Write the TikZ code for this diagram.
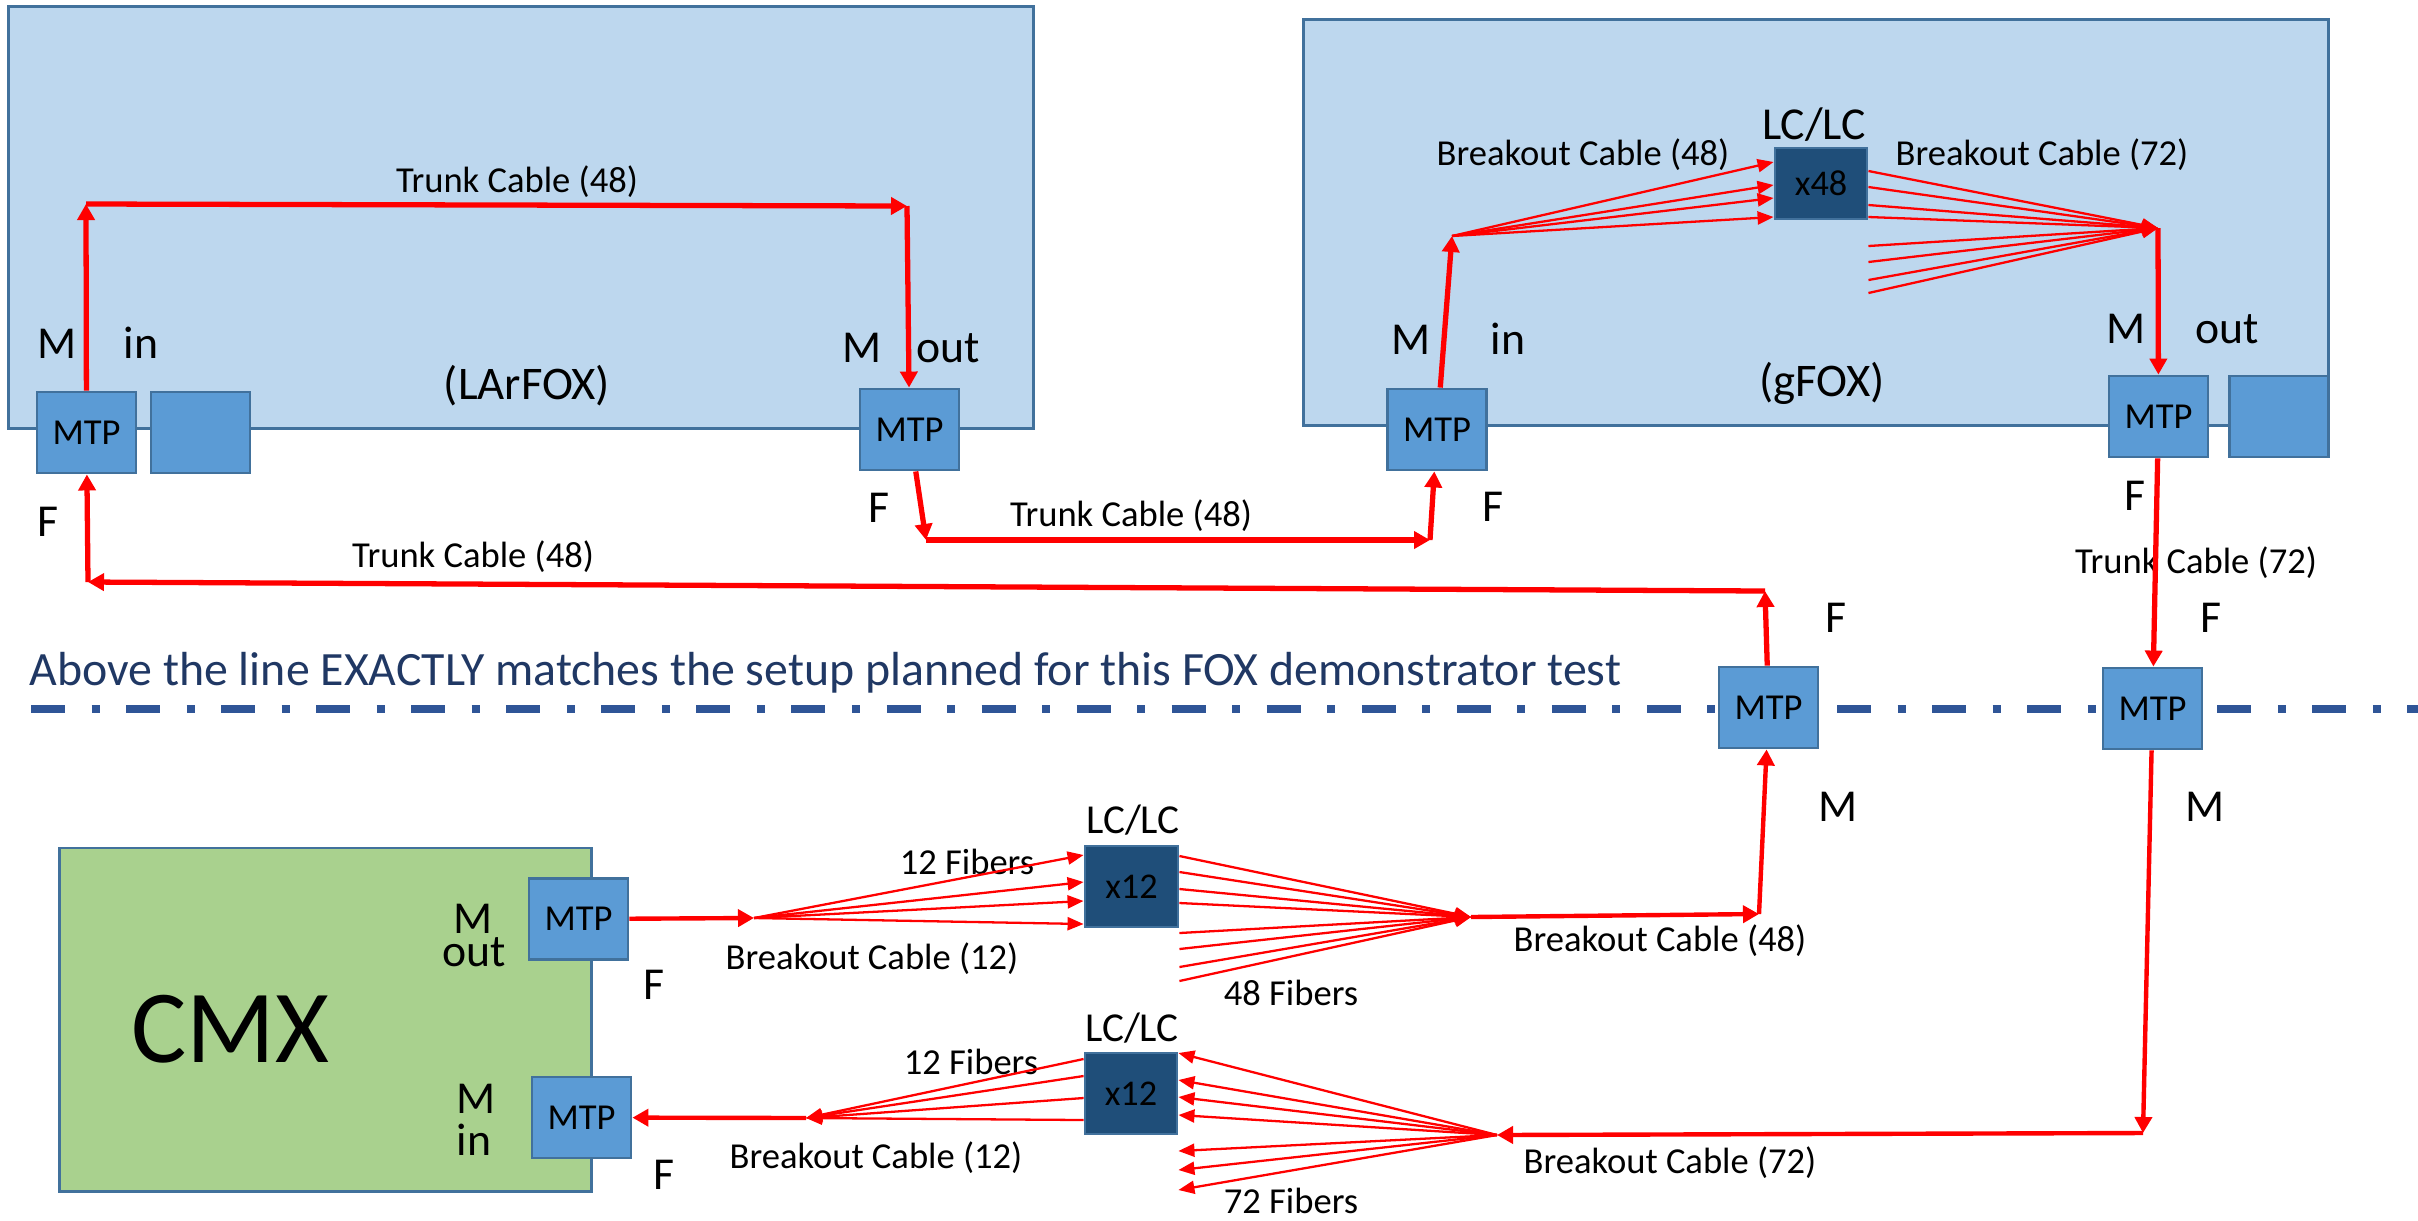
\documentclass[tikz,border=0pt]{standalone}
\usepackage{fontspec}
\setmainfont{Carlito}
\usetikzlibrary{arrows.meta}

\definecolor{boxblue}{HTML}{BDD7EE}
\definecolor{mtpblue}{HTML}{5B9BD5}
\definecolor{edgeblue}{HTML}{41719C}
\definecolor{lcnavy}{HTML}{1F4E79}
\definecolor{cmxgreen}{HTML}{A9D18E}
\definecolor{sepblue}{HTML}{2F5597}
\definecolor{notenavy}{HTML}{203864}
\definecolor{fibre}{HTML}{FF0000}

\begin{document}
\begin{tikzpicture}[x=0.01cm,y=-0.01cm,
    crate/.style={draw=edgeblue,line width=0.8pt,fill=boxblue,inner sep=0pt},
    mtp/.style={draw=edgeblue,line width=0.8pt,fill=mtpblue,minimum width=0.99cm,minimum height=0.81cm,inner sep=0pt,font=\fontsize{10.4}{12}\selectfont},
    lc/.style={draw=edgeblue,line width=0.8pt,fill=lcnavy,minimum width=0.92cm,minimum height=0.81cm,inner sep=0pt,font=\fontsize{10.3}{12}\selectfont},
    lbl/.style={inner sep=0pt,font=\fontsize{10.4}{12}\selectfont},
    tag/.style={inner sep=0pt,anchor=base,font=\fontsize{13}{15}\selectfont},
    trunk/.style={draw=fibre,line width=1.5pt,-{Triangle[length=0.16cm,width=0.17cm]}},
    breakout/.style={trunk,line width=1.25pt},
    fibreline/.style={draw=fibre,line width=0.65pt},
    fibrearrow/.style={fibreline,-{Triangle[length=0.16cm,width=0.13cm]}}]
  \useasboundingbox (0,0) rectangle (2418,1220);

  \node[crate,minimum width=10.24cm,minimum height=4.21cm] (larfox) at (521,217.5) {};
  \node[crate,minimum width=10.24cm,minimum height=4.05cm] (gfox) at (1816,222.5) {};
  \node[crate,fill=cmxgreen,minimum width=5.31cm,minimum height=3.43cm] (cmx) at (325.5,1019.5) {};

  \coordinate (sepl) at (31,709);
  \coordinate (sepr) at (2418,709);
  \draw[sepblue,line width=2.3pt,dash pattern=on 9.67pt off 7.54pt on 2.28pt off 7.54pt] (sepl) -- (sepr);
  \node[anchor=base west,inner sep=0pt,text=notenavy,font=\fontsize{13.6}{16}\selectfont] (note) at (29,685)
    {Above the line EXACTLY matches the setup planned for this FOX demonstrator test};

  \node[mtp] (larin) at (86.5,432.5) {MTP};
  \node[mtp] (larspare) at (200.5,432.5) {};
  \node[mtp] (larout) at (909.5,429.5) {MTP};
  \node[mtp] (gin) at (1437,429.5) {MTP};
  \node[mtp] (gout) at (2158.5,416.5) {MTP};
  \node[mtp] (gspare) at (2279,416.5) {};
  \node[mtp] (midmtp) at (1768.5,707.5) {MTP};
  \node[mtp] (rightmtp) at (2152.5,708.5) {MTP};
  \node[mtp] (cmxout) at (578.5,919) {MTP};
  \node[mtp] (cmxin) at (581.5,1117.5) {MTP};
  \node[lc,minimum height=0.71cm] (lcg) at (1821,183.5) {x48};
  \node[lc,minimum width=0.93cm] (lcup) at (1131.5,886.5) {x12};
  \node[lc] (lcdown) at (1131,1093.5) {x12};

  \node[tag] (larinm) at (57,358) {M};
  \node[tag] (larinin) at (141,358) {in};
  \node[tag] (larinf) at (48,536) {F};
  \node[tag] (laroutm) at (862,362) {M};
  \node[tag] (laroutout) at (948,362) {out};
  \node[tag] (laroutf) at (879,522) {F};
  \node[tag] (ginm) at (1411,354) {M};
  \node[tag] (ginin) at (1508,354) {in};
  \node[tag] (ginf) at (1493,521) {F};
  \node[tag] (goutm) at (2126,343) {M};
  \node[tag] (goutout) at (2227,343) {out};
  \node[tag] (goutf) at (2135,510) {F};
  \node[tag] (midf) at (1836,632) {F};
  \node[tag] (midm) at (1838,821) {M};
  \node[tag] (rightf) at (2211,632) {F};
  \node[tag] (rightm) at (2205,821) {M};
  \node[tag] (cmxoutm) at (473,933) {M};
  \node[tag] (cmxoutout) at (474,966) {out};
  \node[tag] (cmxoutf) at (654,999) {F};
  \node[tag] (cmxinm) at (476,1113) {M};
  \node[tag] (cmxinin) at (474,1155) {in};
  \node[tag] (cmxinf) at (664,1189) {F};
  \node[tag,font=\fontsize{29.5}{34}\selectfont] (cmxname) at (230,1062) {CMX};
  \node[lbl,font=\fontsize{13.3}{15}\selectfont] (larname) at (527,386) {(LArFOX)};
  \node[lbl,font=\fontsize{13.3}{15}\selectfont] (gname) at (1822,383) {(gFOX)};
  \node[lbl,font=\fontsize{13}{15}\selectfont] (lcgname) at (1814,125) {LC/LC};
  \node[lbl,font=\fontsize{11.7}{14}\selectfont] (lcupname) at (1133,820) {LC/LC};
  \node[lbl,font=\fontsize{11.7}{14}\selectfont] (lcdownname) at (1132,1028) {LC/LC};

  \node[lbl] (trunka) at (517,182) {Trunk Cable (48)};
  \node[lbl] (trunkb) at (1131,516) {Trunk Cable (48)};
  \node[lbl] (trunkc) at (473,557) {Trunk Cable (48)};
  \node[lbl] (trunkd) at (2196,563) {Trunk Cable (72)};
  \node[lbl] (brka) at (1583,155) {Breakout Cable (48)};
  \node[lbl] (brkb) at (2042,155) {Breakout Cable (72)};
  \node[lbl] (brkc) at (872,959) {Breakout Cable (12)};
  \node[lbl] (brkd) at (876,1158) {Breakout Cable (12)};
  \node[lbl] (brke) at (1660,941) {Breakout Cable (48)};
  \node[lbl] (brkf) at (1670,1163) {Breakout Cable (72)};
  \node[lbl] (fiba) at (967,862) {12 Fibers};
  \node[lbl] (fibb) at (971,1062) {12 Fibers};
  \node[lbl] (fibc) at (1291,993) {48 Fibers};
  \node[lbl] (fibd) at (1291,1201) {72 Fibers};

  \coordinate (lartl) at (86,204);
  \coordinate (lartr) at (907,206);
  \coordinate (midbl) at (926,540);
  \coordinate (midbr) at (1430,540);
  \coordinate (lowtr) at (1765,591);
  \coordinate (lowtl) at (88,582);
  \coordinate (gfan) at (1452,236);
  \coordinate (gcol) at (2158,228);
  \coordinate (botr) at (2143,1133);
  \coordinate (botl) at (1497,1135);
  \coordinate (cfan) at (754,918);
  \coordinate (ccol) at (1471,917);
  \coordinate (cbr) at (1759,914);
  \coordinate (dfan) at (806,1118);

  \draw[trunk] (larin) -- (lartl);
  \draw[trunk] (lartl) -- (lartr);
  \draw[trunk] (lartr) -- (larout);
  \draw[trunk] (larout) -- (midbl);
  \draw[trunk] (midbl) -- (midbr);
  \draw[trunk] (midbr) -- (gin);
  \draw[trunk] (gin) -- (gfan);
  \draw[trunk] (gcol) -- (gout);
  \draw[trunk] (gout) -- (rightmtp);
  \draw[trunk] (midmtp) -- (lowtr);
  \draw[trunk] (lowtr) -- (lowtl);
  \draw[trunk] (lowtl) -- (larin);
  \draw[breakout] (cmxout) -- (cfan);
  \draw[breakout] (ccol) -- (cbr);
  \draw[breakout] (cbr) -- (midmtp);
  \draw[breakout] (rightmtp) -- (botr);
  \draw[breakout] (botr) -- (botl);
  \draw[breakout] (dfan) -- (cmxin);

  \draw[fibrearrow] (gfan) -- (lcg.west |- 0,162);
  \draw[fibrearrow] (gfan) -- (lcg.west |- 0,185);
  \draw[fibrearrow] (gfan) -- (lcg.west |- 0,198);
  \draw[fibrearrow] (gfan) -- (lcg.west |- 0,217);
  \draw[fibrearrow] (lcg.east |- 0,171) -- (gcol);
  \draw[fibrearrow] (lcg.east |- 0,187) -- (gcol);
  \draw[fibrearrow] (lcg.east |- 0,205) -- (gcol);
  \draw[fibrearrow] (lcg.east |- 0,217) -- (gcol);
  \draw[fibrearrow] (lcg.east |- 0,246) -- (gcol);
  \draw[fibrearrow] (lcg.east |- 0,262) -- (gcol);
  \draw[fibrearrow] (lcg.east |- 0,280) -- (gcol);
  \draw[fibrearrow] (lcg.east |- 0,293) -- (gcol);

  \draw[fibrearrow] (cfan) -- (lcup.west |- 0,855);
  \draw[fibrearrow] (cfan) -- (lcup.west |- 0,882);
  \draw[fibrearrow] (cfan) -- (lcup.west |- 0,901);
  \draw[fibrearrow] (cfan) -- (lcup.west |- 0,924);
  \draw[fibrearrow] (lcup.east |- 0,856) -- (ccol);
  \draw[fibrearrow] (lcup.east |- 0,872) -- (ccol);
  \draw[fibrearrow] (lcup.east |- 0,889) -- (ccol);
  \draw[fibrearrow] (lcup.east |- 0,903) -- (ccol);
  \draw[fibrearrow] (lcup.east |- 0,933) -- (ccol);
  \draw[fibrearrow] (lcup.east |- 0,949) -- (ccol);
  \draw[fibrearrow] (lcup.east |- 0,967) -- (ccol);
  \draw[fibrearrow] (lcup.east |- 0,981) -- (ccol);

  \draw[fibrearrow] (botl) -- (lcdown.east |- 0,1053);
  \draw[fibrearrow] (botl) -- (lcdown.east |- 0,1080);
  \draw[fibrearrow] (botl) -- (lcdown.east |- 0,1097);
  \draw[fibrearrow] (botl) -- (lcdown.east |- 0,1115);
  \draw[fibrearrow] (botl) -- (lcdown.east |- 0,1151);
  \draw[fibrearrow] (botl) -- (lcdown.east |- 0,1170);
  \draw[fibrearrow] (botl) -- (lcdown.east |- 0,1190);
  \draw[fibrearrow] (lcdown.west |- 0,1059) -- (dfan);
  \draw[fibrearrow] (lcdown.west |- 0,1076) -- (dfan);
  \draw[fibrearrow] (lcdown.west |- 0,1098) -- (dfan);
  \draw[fibrearrow] (lcdown.west |- 0,1120) -- (dfan);
\end{tikzpicture}
\end{document}
